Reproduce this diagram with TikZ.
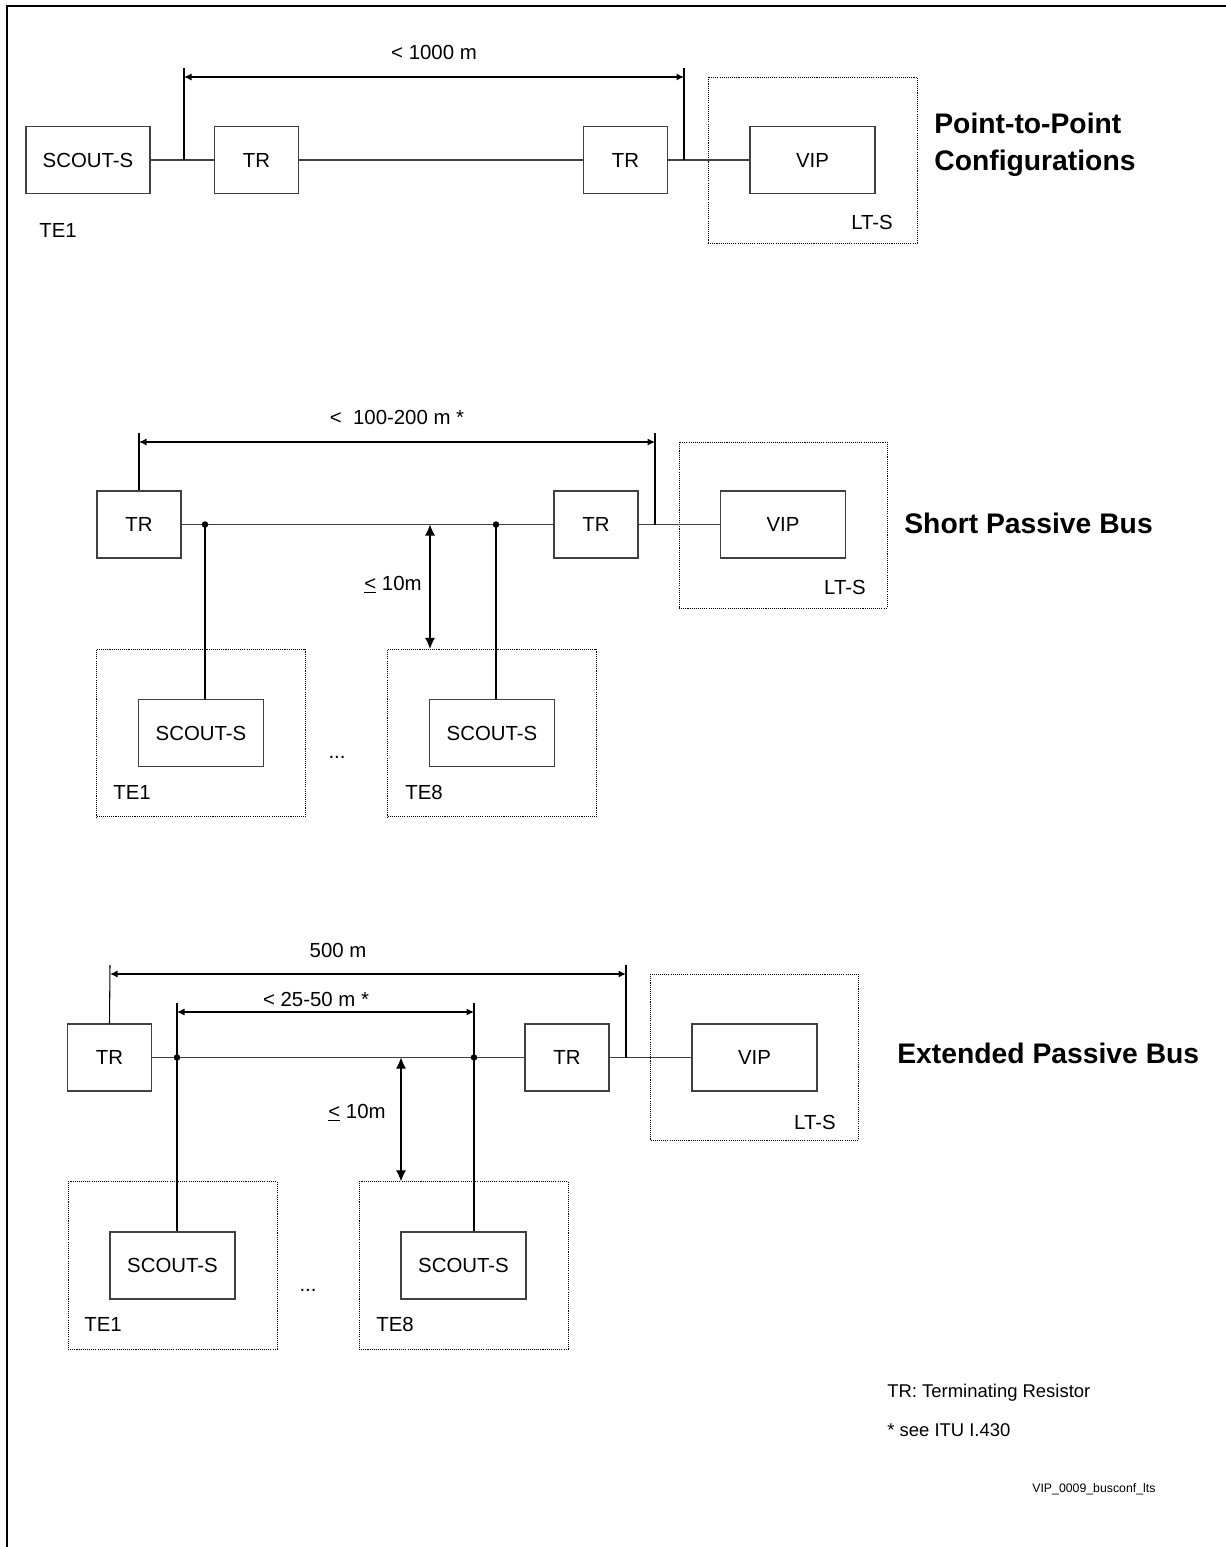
\documentclass[tikz,border=0pt]{standalone}
\usepackage{fontspec}
\setmainfont{Liberation Sans}
\usetikzlibrary{arrows.meta}

\tikzset{
  unitbox/.style={draw=black!75, line width=0.6pt, minimum width=2.5cm, minimum height=1.34cm, inner sep=0pt},
  trbox/.style={unitbox, minimum width=1.68cm},
  areabox/.style={draw, line width=0.5pt, dash pattern=on 0.6pt off 0.6pt, inner sep=0pt},
  ltsarea/.style={areabox, minimum width=4.16cm, minimum height=3.32cm},
  tearea/.style={areabox, minimum width=4.18cm, minimum height=3.35cm},
  wire/.style={draw=black!75, line width=0.6pt},
  stub/.style={line width=0.6pt},
  dimarrow/.style={line width=0.6pt, {Latex[length=1.5mm,width=1.4mm]}-{Latex[length=1.5mm,width=1.4mm]}},
  gaparrow/.style={line width=0.6pt, {Latex[length=2.2mm,width=2mm]}-{Latex[length=2.2mm,width=2mm]}},
  junction/.style={circle, fill, inner sep=0pt, minimum size=0.13cm},
  heading/.style={font=\fontsize{16.1}{20.8}\selectfont\bfseries, align=left, inner sep=0pt},
  note/.style={font=\fontsize{10.5}{12.6}\selectfont, anchor=base west, inner sep=0pt}
}

\begin{document}
\begin{tikzpicture}[x=0.02cm, y=-0.02cm, every node/.style={font=\fontsize{11.6}{14}\selectfont}]
  \useasboundingbox (0,0) rectangle (1225,1547);
  \draw[line width=1.1pt] (7,1560) -- (7,6) -- (1240,6);

  \node[unitbox, minimum width=2.48cm] (scoutA) at (88,160) {SCOUT-S};
  \node[trbox] (trA1) at (256.5,160) {TR};
  \node[trbox] (trA2) at (625.5,160) {TR};
  \node[ltsarea, minimum width=4.18cm] (ltsA) at (812.5,160) {};
  \node[unitbox] (vipA) at (812.5,160) {VIP};
  \node (ltsAlabel) at (872,222) {LT-S};
  \node (teA) at (58,230) {TE1};
  \node (lenA) at (434,52) {< 1000 m};
  \node[heading, anchor=north west] (titleA) at (934,113) {Point-to-Point\\Configurations};

  \draw[wire] (scoutA) -- (trA1) (trA1) -- (trA2) (trA2) -- (vipA);
  \coordinate (tickA1) at (184,68);
  \coordinate (tickA2) at (684,68);
  \draw[stub] (tickA1) -- (tickA1 |- scoutA.east);
  \draw[stub] (tickA2) -- (tickA2 |- vipA.west);
  \draw[dimarrow] ([yshift=-0.18cm]tickA1) -- ([yshift=-0.18cm]tickA2);

  \node[trbox] (trB1) at (139,524.5) {TR};
  \node[trbox] (trB2) at (596,524.5) {TR};
  \node[ltsarea] (ltsB) at (783,525) {};
  \node[unitbox] (vipB) at (783,524.5) {VIP};
  \node (ltsBlabel) at (845,587) {LT-S};
  \node[tearea] (teB1) at (201,733) {};
  \node[unitbox] (scoutB1) at (201,733) {SCOUT-S};
  \node (teB1label) at (132,792) {TE1};
  \node[tearea] (teB8) at (492,733) {};
  \node[unitbox] (scoutB8) at (492,733) {SCOUT-S};
  \node (teB8label) at (424,792) {TE8};
  \node (dotsB) at (337,757) {...};
  \node (lenB) at (397,417) {<\ \ 100-200 m *};
  \node[anchor=base] (gapBlabel) at (393,590) {\underline{<} 10m};
  \node[heading, anchor=west] (titleB) at (904,523) {Short Passive Bus};

  \draw[wire] (trB1) -- (trB2) (trB2) -- (vipB);
  \node[junction] (jB1) at (205,524.5) {};
  \node[junction] (jB8) at (496,524.5) {};
  \draw[stub] (jB1.center) -- (jB1 |- scoutB1.north);
  \draw[stub] (jB8.center) -- (jB8 |- scoutB8.north);
  \coordinate (gapB) at (430,524.5);
  \draw[gaparrow] (gapB) -- (gapB |- teB8.north);
  \coordinate (tickB1) at (139,433);
  \coordinate (tickB2) at (655,433);
  \draw[stub] (tickB1) -- (trB1.north);
  \draw[stub] (tickB2) -- (tickB2 |- vipB.west);
  \draw[dimarrow] ([yshift=-0.18cm]tickB1) -- ([yshift=-0.18cm]tickB2);

  \node[trbox] (trC1) at (109.5,1057.5) {TR};
  \node[trbox] (trC2) at (567,1057.5) {TR};
  \node[ltsarea] (ltsC) at (754.5,1057) {};
  \node[unitbox] (vipC) at (754.5,1057.5) {VIP};
  \node (ltsClabel) at (815,1122) {LT-S};
  \node[tearea] (teC1) at (172.5,1265.5) {};
  \node[unitbox] (scoutC1) at (172.5,1265.5) {SCOUT-S};
  \node (teC1label) at (103,1324) {TE1};
  \node[tearea] (teC8) at (463.5,1265.5) {};
  \node[unitbox] (scoutC8) at (463.5,1265.5) {SCOUT-S};
  \node (teC8label) at (395,1324) {TE8};
  \node (dotsC) at (308,1290) {...};
  \node (lenC) at (338,950) {500 m};
  \node (lenCinner) at (316,999) {< 25-50 m *};
  \node[anchor=base] (gapClabel) at (357,1118) {\underline{<} 10m};
  \node[heading, anchor=west] (titleC) at (897,1053) {Extended Passive Bus};

  \draw[wire] (trC1) -- (trC2) (trC2) -- (vipC);
  \node[junction] (jC1) at (177,1057.5) {};
  \node[junction] (jC8) at (474,1057.5) {};
  \coordinate (tickC3) at (177,1003);
  \coordinate (tickC4) at (474,1003);
  \draw[stub] (tickC3) -- (tickC3 |- scoutC1.north);
  \draw[stub] (tickC4) -- (tickC4 |- scoutC8.north);
  \draw[dimarrow] ([yshift=-0.18cm]tickC3) -- ([yshift=-0.18cm]tickC4);
  \coordinate (gapC) at (401,1057.5);
  \draw[gaparrow] (gapC) -- (gapC |- teC8.north);
  \coordinate (tickC1) at (110,965);
  \coordinate (tickC2) at (626,965);
  \draw[stub] (tickC1) -- (trC1.north);
  \draw[stub] (tickC2) -- (tickC2 |- vipC.west);
  \draw[dimarrow] ([yshift=-0.18cm]tickC1) -- ([yshift=-0.18cm]tickC2);

  \node[note] (noteTR) at (887,1397.6) {TR: Terminating Resistor};
  \node[note] (noteITU) at (887,1436.6) {* see ITU I.430};
  \node[note, font=\fontsize{7}{8.4}\selectfont] (figid) at (1032,1492.4) {VIP\_0009\_busconf\_lts};
\end{tikzpicture}
\end{document}
